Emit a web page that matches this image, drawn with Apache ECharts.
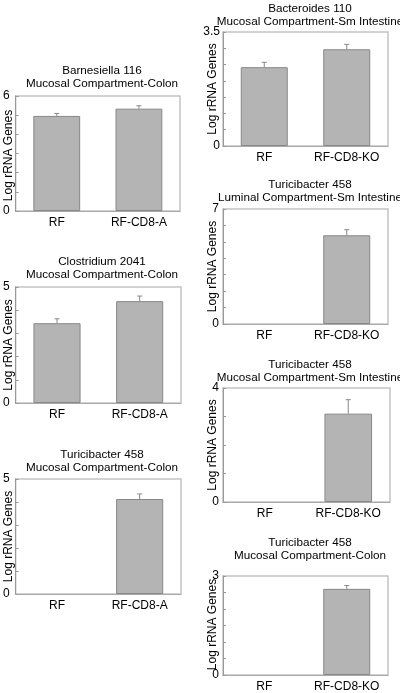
<!DOCTYPE html>
<html><head><meta charset="utf-8">
<script src="https://cdn.jsdelivr.net/npm/echarts@6/dist/echarts.min.js"></script>
<style>html,body{margin:0;padding:0;background:#fff}#c{width:400px;height:693px}</style>
</head><body><div id="c"></div>
<script>
// ---- data ----
const catsA = ['RF', 'RF-CD8-A'];
const catsKO = ['RF', 'RF-CD8-KO'];

const titleBarnesiella = 'Barnesiella 116\nMucosal Compartment-Colon';
const titleBacteroides = 'Bacteroides 110\nMucosal Compartment-Sm Intestine';
const titleClostridium = 'Clostridium 2041\nMucosal Compartment-Colon';
const titleTuriLumSm = 'Turicibacter 458\nLuminal Compartment-Sm Intestine';
const titleTuriMucColonA = 'Turicibacter 458\nMucosal Compartment-Colon';
const titleTuriMucSm = 'Turicibacter 458\nMucosal Compartment-Sm Intestine';
const titleTuriMucColonKO = 'Turicibacter 458\nMucosal Compartment-Colon';

const barnesiellaMean = [4.96, 5.34];
const barnesiellaErr = [0.13, 0.15];
const bacteroidesMean = [2.42, 2.97];
const bacteroidesErr = [0.15, 0.15];
const clostridiumMean = [3.44, 4.39];
const clostridiumErr = [0.19, 0.22];
const turiLumSmMean = [0, 5.40];
const turiLumSmErr = [0, 0.34];
const turiMucColonAMean = [0, 4.13];
const turiMucColonAErr = [0, 0.22];
const turiMucSmMean = [0, 3.10];
const turiMucSmErr = [0, 0.49];
const turiMucColonKOMean = [0, 2.61];
const turiMucColonKOErr = [0, 0.10];

const yMaxes = [6, 3.5, 5, 7, 5, 4, 3];
const yIntervals = [1, 0.5, 1, 1, 1, 1, 0.5];
const yAxisName = 'Log rRNA Genes';

// ---- layout ----
const panels = [
  {title: titleBarnesiella, cats: catsA, mean: barnesiellaMean, err: barnesiellaErr, grid: {left: 14, top: 96, width: 166, height: 115}, titleTop: 59, titleX: 97, nameShift: 2, nameGap: 7, labelMargin: 6},
  {title: titleBacteroides, cats: catsKO, mean: bacteroidesMean, err: bacteroidesErr, grid: {left: 223, top: 32, width: 165, height: 114}, titleTop: -3, titleX: 305, nameShift: 0, nameGap: 10, labelMargin: 3},
  {title: titleClostridium, cats: catsA, mean: clostridiumMean, err: clostridiumErr, grid: {left: 14, top: 287, width: 167, height: 116}, titleTop: 250, titleX: 97, nameShift: 0, nameGap: 7, labelMargin: 6},
  {title: titleTuriLumSm, cats: catsKO, mean: turiLumSmMean, err: turiLumSmErr, grid: {left: 223, top: 209, width: 165, height: 115}, titleTop: 173, titleX: 305, nameShift: 0, nameGap: 10, labelMargin: 4},
  {title: titleTuriMucColonA, cats: catsA, mean: turiMucColonAMean, err: turiMucColonAErr, grid: {left: 14, top: 479, width: 167, height: 115}, titleTop: 443, titleX: 97, nameShift: 0, nameGap: 7, labelMargin: 6},
  {title: titleTuriMucSm, cats: catsKO, mean: turiMucSmMean, err: turiMucSmErr, grid: {left: 223, top: 388, width: 167, height: 114}, titleTop: 353, titleX: 305, nameShift: 0, nameGap: 10, labelMargin: 4},
  {title: titleTuriMucColonKO, cats: catsKO, mean: turiMucColonKOMean, err: turiMucColonKOErr, grid: {left: 223, top: 576, width: 165, height: 105}, titleTop: 531, titleX: 305, nameShift: -1, nameGap: 10, labelMargin: 4}
];

const FONT = 'Liberation Sans, Arial, sans-serif';
const option = {animation: false, title: [], grid: [], xAxis: [], yAxis: [], series: []};

panels.forEach((p, i) => {
  const ymax = yMaxes[i];
  const s = p.nameShift;
  option.title.push({
    text: p.title, left: p.titleX, top: p.titleTop, textAlign: 'center',
    textStyle: {fontFamily: FONT, fontSize: 11.7, fontWeight: 'normal', color: '#000', lineHeight: 13}
  });
  option.grid.push(Object.assign({show: true, borderColor: '#c4c4c4', borderWidth: 1.5, backgroundColor: 'transparent', containLabel: false}, p.grid));
  option.xAxis.push({
    type: 'category', gridIndex: i, data: p.cats,
    axisLine: {lineStyle: {color: '#aaa', width: 1}},
    axisTick: {show: false},
    axisLabel: {fontFamily: FONT, fontSize: 12, color: '#000', margin: 6, interval: 0}
  });
  option.yAxis.push({
    type: 'value', gridIndex: i, min: 0, max: ymax, interval: yIntervals[i],
    name: yAxisName, nameLocation: 'middle', nameGap: p.nameGap, nameMoveOverlap: false,
    nameTextStyle: {fontFamily: FONT, fontSize: 12, color: '#000', verticalAlign: 'middle',
      padding: s >= 0 ? [0, 2 * s, 0, 0] : [0, 0, 0, -2 * s]},
    axisLine: {show: true, lineStyle: {color: '#999', width: 1}},
    axisTick: {show: true, inside: true, length: 3, lineStyle: {color: '#999'}},
    splitLine: {show: false},
    axisLabel: {
      fontFamily: FONT, fontSize: 12, color: '#000', margin: p.labelMargin,
      formatter: v => (v === 0 || v === ymax) ? String(v) : ''
    }
  });
  option.series.push({
    type: 'bar', xAxisIndex: i, yAxisIndex: i,
    data: p.mean.map(v => v === 0 ? {value: v, itemStyle: {borderWidth: 0}} : v),
    barWidth: '57%',
    itemStyle: {color: '#b4b4b4', borderColor: '#888', borderWidth: 1}
  });
  option.series.push({
    type: 'custom', xAxisIndex: i, yAxisIndex: i,
    data: p.mean.map((m, k) => [k, m, p.err[k]]),
    renderItem: (params, api) => {
      const e = api.value(2);
      if (!e) return {type: 'group', children: []};
      const base = api.coord([api.value(0), api.value(1)]);
      const top = api.coord([api.value(0), api.value(1) + e]);
      const st = {stroke: '#888', lineWidth: 1};
      return {type: 'group', children: [
        {type: 'line', shape: {x1: base[0], y1: base[1], x2: top[0], y2: top[1]}, style: st},
        {type: 'line', shape: {x1: top[0] - 2.5, y1: top[1], x2: top[0] + 2.5, y2: top[1]}, style: st}
      ]};
    },
    z: 3
  });
});

const chart = echarts.init(document.getElementById('c'), null, {renderer: 'canvas'});
chart.setOption(option);
</script></body></html>
